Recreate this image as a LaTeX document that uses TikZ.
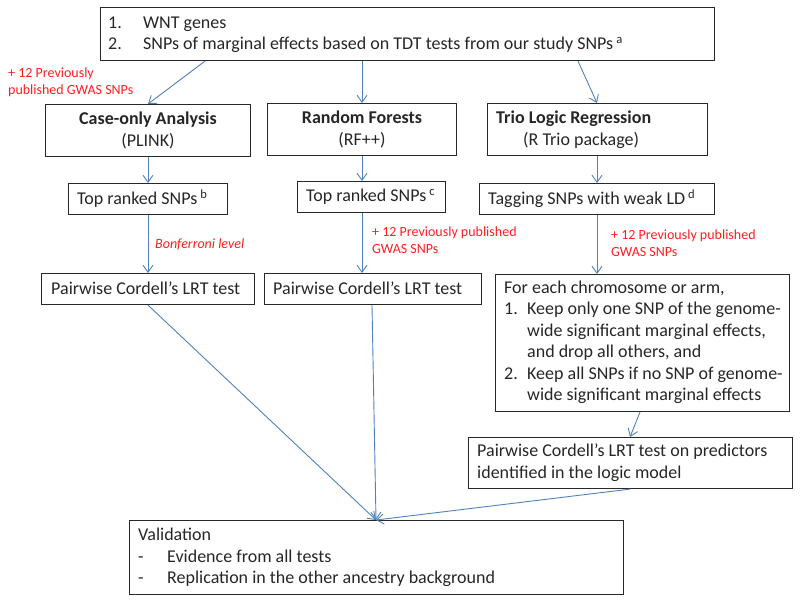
\documentclass[tikz,border=0pt]{standalone}
\usepackage{fontspec}
\setmainfont{Carlito}
\usetikzlibrary{arrows.meta}
\definecolor{arr}{RGB}{79,129,189}
\definecolor{note}{RGB}{255,30,30}
\definecolor{edge}{RGB}{40,40,40}
\tikzset{
  box/.style={draw=edge, line width=1.1pt, anchor=north west, inner sep=0pt},
  conn/.style={draw=arr, line width=0.9pt, -{Straight Barb[length=7pt,width=10pt]}},
  txt/.style={font=\fontsize{18}{21.5}\selectfont, text=black!85, inner sep=0pt, align=left},
  rednote/.style={font=\fontsize{14}{17}\selectfont, text=note, align=left, anchor=north west, inner sep=0pt}
}
\newcommand{\bx}[5]{% name, x1, y1, x2, y2
  \node[box, minimum width={#4pt-#2pt}, minimum height={#5pt-#3pt}] (#1) at (#2,#3) {};}
\begin{document}
\begin{tikzpicture}[x=1pt,y=-1pt]
\useasboundingbox (0,0) rectangle (800,603);
% boxes
\bx{top}{100}{7}{714}{60}
\bx{case}{45}{104}{250}{156}
\bx{rf}{267}{103}{456}{155}
\bx{trio}{487}{103}{707}{155}
\bx{topb}{68}{183}{227}{214}
\bx{topc}{297}{181}{445}{212}
\bx{tag}{479}{183}{714}{214}
\bx{pw1}{41}{273}{254}{304}
\bx{pw2}{264}{273}{481}{304}
\bx{each}{495}{274}{789}{411}
\bx{pred}{468}{437}{792}{488}
\bx{val}{129}{520}{623}{594}
% texts
\node[txt, anchor=west] (ttop) at (108,35) {\makebox[35pt][l]{1.}WNT genes\\\makebox[35pt][l]{2.}SNPs of marginal effects based on TDT tests from our study SNPs\,\textsuperscript{a}};
\node[txt, align=center] (tcase) at (148,130.5) {\textbf{Case-only Analysis}\\(PLINK)};
\node[txt, align=center] (trf) at (362,129.5) {\textbf{Random Forests}\\(RF++)};
\node[txt, anchor=west] (ttrio) at (496,129.5) {\textbf{Trio Logic Regression}\\\hspace*{27pt}(R Trio package)};
\node[txt, anchor=west] (ttopb) at (77,198.5) {Top ranked SNPs\,\textsuperscript{b}};
\node[txt, anchor=west] (ttopc) at (306,196.5) {Top ranked SNPs\,\textsuperscript{c}};
\node[txt, anchor=west] (ttag) at (488,198.5) {Tagging SNPs with weak LD\,\textsuperscript{d}};
\node[txt, anchor=west] (tpw1) at (51,288.5) {Pairwise Cordell’s LRT test};
\node[txt, anchor=west] (tpw2) at (273,288.5) {Pairwise Cordell’s LRT test};
\node[txt, anchor=west] (teach) at (504,342.5) {For each chromosome or arm,\\\makebox[23pt][l]{1.}Keep only one SNP of the genome-\\\hspace*{23pt}wide significant marginal effects,\\\hspace*{23pt}and drop all others, and\\\makebox[23pt][l]{2.}Keep all SNPs if no SNP of genome-\\\hspace*{23pt}wide significant marginal effects};
\node[txt, anchor=west] (tpred) at (477,462.5) {Pairwise Cordell’s LRT test on predictors\\identified in the logic model};
\node[txt, anchor=west] (tval) at (138,557.5) {Validation\\\makebox[29pt][l]{-}Evidence from all tests\\\makebox[29pt][l]{-}Replication in the other ancestry background};
% red notes
\node[rednote] (n1) at (8,68) {+ 12 Previously\\published GWAS SNPs};
\node[rednote, font=\fontsize{14}{17}\selectfont\itshape] (n2) at (155,239) {Bonferroni level};
\node[rednote] (n3) at (372,227) {+ 12 Previously published\\GWAS SNPs};
\node[rednote] (n4) at (611,230) {+ 12 Previously published\\GWAS SNPs};
% connectors
\coordinate (v) at (376,520);
\draw[conn] ([xshift=105pt]top.south west) -- ([xshift=103pt]case.north west);
\draw[conn] ([xshift=262pt]top.south west) -- ([xshift=95pt]rf.north west);
\draw[conn] ([xshift=478pt]top.south west) -- ([xshift=110pt]trio.north west);
\draw[conn] ([xshift=103pt]case.south west) -- ([xshift=80pt]topb.north west);
\draw[conn] ([xshift=95pt]rf.south west) -- ([xshift=65pt]topc.north west);
\draw[conn] ([xshift=110pt]trio.south west) -- ([xshift=118pt]tag.north west);
\draw[conn] ([xshift=80pt]topb.south west) -- ([xshift=107pt]pw1.north west);
\draw[conn] ([xshift=65pt]topc.south west) -- ([xshift=98pt]pw2.north west);
\draw[conn] ([xshift=118pt]tag.south west) -- ([xshift=102pt]each.north west);
\draw[conn] ([xshift=107pt]pw1.south west) -- (v);
\draw[conn] ([xshift=108pt]pw2.south west) -- (v);
\draw[conn] ([xshift=145pt]each.south west) -- ([xshift=162pt]pred.north west);
\draw[conn] ([xshift=162pt]pred.south west) -- (v);
\end{tikzpicture}
\end{document}
